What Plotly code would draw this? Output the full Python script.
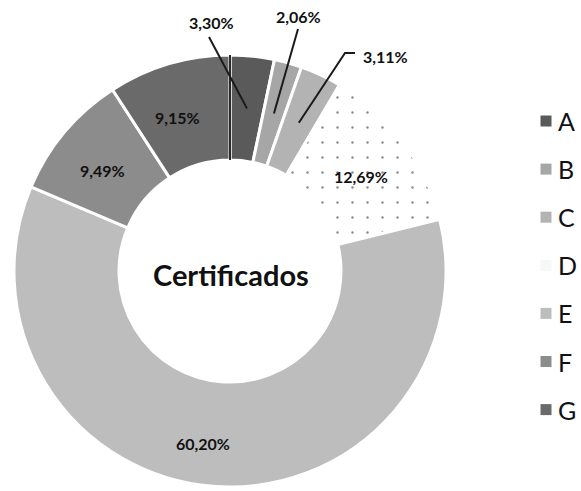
import math
import plotly.graph_objects as go

# ---- data ----
categories = ["A", "B", "C", "D", "E", "F", "G"]
shares = [3.30, 2.06, 3.11, 12.69, 60.20, 9.49, 9.15]
value_labels = ["3,30%", "2,06%", "3,11%", "12,69%", "60,20%", "9,49%", "9,15%"]
center_title = "Certificados"

# ---- styling ----
slice_colors = ["#5a5a5a", "#a6a6a6", "#b3b3b3", "#ffffff", "#bdbdbd", "#8c8c8c", "#6a6a6a"]
pattern_shapes = ["", "", "", ".", "", "", ""]
FONT = "Lato"

W, H = 581, 491
CX, CY = 230, 271          # donut centre (px)
R_OUT, R_IN = 216, 111     # outer / inner radius (px)
R_MID = (R_OUT + R_IN) / 2


def to_paper(x, y):
    return x / W, 1 - y / H


def polar(frac, rad):
    t = 2 * math.pi * frac
    return CX + rad * math.sin(t), CY - rad * math.cos(t)


total = sum(shares)
mids = []
acc = 0.0
for v in shares:
    mids.append((acc + v / 2) / total)
    acc += v

fig = go.Figure(go.Pie(
    labels=categories,
    values=shares,
    sort=False,
    direction="clockwise",
    rotation=0,
    hole=R_IN / R_OUT,
    textinfo="none",
    hoverinfo="label+percent",
    showlegend=False,
    marker=dict(
        colors=slice_colors,
        line=dict(color="white", width=3),
        pattern=dict(shape=pattern_shapes, fgcolor="#8a8a8a", bgcolor="white",
                     size=15, solidity=0.02),
    ),
    domain=dict(x=[(CX - R_OUT) / W, (CX + R_OUT) / W],
                y=[1 - (CY + R_OUT) / H, 1 - (CY - R_OUT) / H]),
))

annotations = []
shapes = []

# dark edge along the start of the first slice
x0, y0 = polar(0, R_IN)
x1, y1 = polar(0, R_OUT)
px0, py0 = to_paper(x0, y0)
px1, py1 = to_paper(x1, y1)
shapes.append(dict(type="line", xref="paper", yref="paper", x0=px0, y0=py0,
                   x1=px1, y1=py1, line=dict(color="#2a2a2a", width=2)))

# labels placed outside with leader lines (small slices)
outside = {
    0: dict(text_xy=(211, 22), path=[(209, 37)], anchor="center"),
    1: dict(text_xy=(298, 17), path=[(298, 29)], anchor="center"),
    2: dict(text_xy=(361, 57), path=[(345, 53), (355, 53)], anchor="left"),
}
# small offsets for labels drawn inside the ring
inside_nudge = {3: (0, 3), 4: (-14, 10), 5: (-2, 5), 6: (-6, 3)}

label_font = dict(family=FONT, size=16, color="#111111", weight="bold")

for i, lab in enumerate(value_labels):
    if i in outside:
        o = outside[i]
        pts = [polar(mids[i], R_MID)] + o["path"]
        d = "M " + " L ".join(
            "{:.5f},{:.5f}".format(*to_paper(px, py)) for px, py in pts)
        shapes.append(dict(type="path", xref="paper", yref="paper", path=d,
                           line=dict(color="#1a1a1a", width=2)))
        tx, ty = to_paper(*o["text_xy"])
        annotations.append(dict(x=tx, y=ty, xref="paper", yref="paper",
                                text=lab, showarrow=False, xanchor=o["anchor"],
                                yanchor="middle", font=label_font))
    else:
        mx, my = polar(mids[i], R_MID)
        dx, dy = inside_nudge.get(i, (0, 0))
        tx, ty = to_paper(mx + dx, my + dy)
        annotations.append(dict(x=tx, y=ty, xref="paper", yref="paper",
                                text=lab, showarrow=False, xanchor="center",
                                yanchor="middle", font=label_font))

# centre title
tx, ty = to_paper(CX + 1, CY + 3)
annotations.append(dict(x=tx, y=ty, xref="paper", yref="paper",
                        text="<b>" + center_title + "</b>", showarrow=False,
                        xanchor="center", yanchor="middle",
                        font=dict(family=FONT, size=29, color="#111111")))

# legend column
LEG_TOP, LEG_STEP = 121, 48.1
SQ_X, SQ = 546, 11
TEXT_X = 556
for i, cat in enumerate(categories):
    yc = LEG_TOP + i * LEG_STEP
    ax0, ay0 = to_paper(SQ_X - SQ / 2, yc + SQ / 2)
    ax1, ay1 = to_paper(SQ_X + SQ / 2, yc - SQ / 2)
    fill = slice_colors[i] if pattern_shapes[i] == "" else "#f7f7f7"
    shapes.append(dict(type="rect", xref="paper", yref="paper",
                       x0=ax0, y0=ay0, x1=ax1, y1=ay1,
                       fillcolor=fill, line=dict(width=0)))
    lx, ly = to_paper(TEXT_X, yc)
    annotations.append(dict(x=lx, y=ly, xref="paper", yref="paper", text=cat,
                            showarrow=False, xanchor="left", yanchor="middle",
                            font=dict(family=FONT, size=25, color="#111111")))

fig.update_layout(
    width=W, height=H,
    margin=dict(l=0, r=0, t=0, b=0),
    paper_bgcolor="white", plot_bgcolor="white",
    annotations=annotations, shapes=shapes,
    font=dict(family=FONT),
)

fig.write_html("out.html")
